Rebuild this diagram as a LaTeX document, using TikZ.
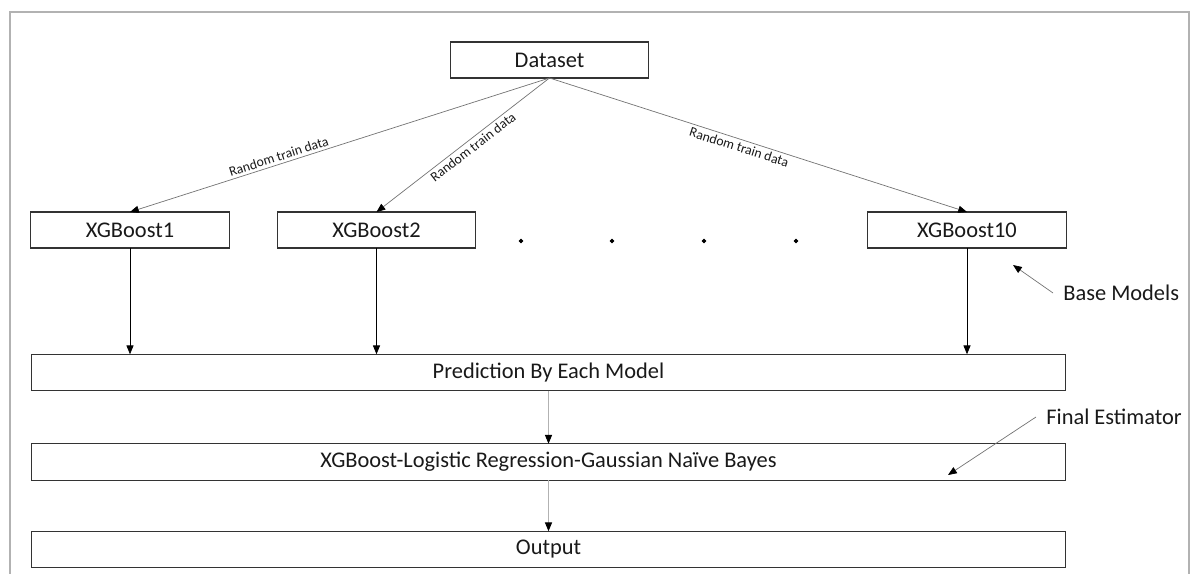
\documentclass[tikz,border=0pt]{standalone}
\usepackage{fontspec}
\setmainfont{Carlito}
\usetikzlibrary{arrows.meta}
\usetikzlibrary{calc}

\begin{document}
\begin{tikzpicture}[x=0.02cm, y=-0.02cm,
  box/.style={draw=black!80, line width=.6pt, inner sep=0pt, outer sep=0pt,
    text=black!90, font=\fontsize{12.75}{14}\selectfont},
  model/.style={box, minimum width=3.97cm, minimum height=0.72cm},
  stage/.style={box, minimum width=20.7cm, minimum height=0.73cm},
  feed/.style={draw=black!55, line width=.4pt,
    -{Triangle[length=5pt,width=4pt,color=black]}},
  pass/.style={draw=black, line width=.4pt,
    -{Triangle[length=5pt,width=4pt]}},
  soft/.style={draw=black!30, line width=.5pt,
    -{Triangle[length=5pt,width=4pt,color=black]}},
  tag/.style={font=\fontsize{7.8}{9}\selectfont, text=black!90, inner sep=1.5pt, sloped},
  note/.style={font=\fontsize{12.75}{14}\selectfont, text=black!90, anchor=west,
    inner xsep=0.2cm, inner ysep=0pt}]
\useasboundingbox (0,0) rectangle (1192,574);
% frame
\draw[black!30, line width=.8pt] (10,574) -- (10,12) -- (1189,12) -- (1189,574);

\node[model] (dataset) at (549.5,60) {Dataset};
\node[model] (xgb1) at (130,230) {XGBoost1};
\node[model] (xgb2) at (376.5,230) {XGBoost2};
\node[model] (xgb10) at (967,230) {XGBoost10};

     \draw[fill=black] (521,241) circle [radius=1.9];
     \draw[fill=black] (612,241) circle [radius=1.9];
     \draw[fill=black] (704,241) circle [radius=1.9];
     \draw[fill=black] (796,241) circle [radius=1.9];

\node[stage] (pred) at (548.5,372.5) {Prediction By Each Model};
\node[stage] (final) at (548.5,462) {XGBoost-Logistic Regression-Gaussian Naïve Bayes};
\node[stage] (out) at (548.5,549.5) {Output};

\draw[feed] (dataset.south) -- (xgb1.north)
      node[tag, above, pos=0.64] {Random train data};
\draw[feed] (dataset.south) -- (xgb2.north)
      node[tag, below, pos=0.47] {Random train data};
\draw[feed] (dataset.south) -- (xgb10.north)
      node[tag, below, pos=0.46] {Random train data};

\draw[pass] (xgb1.south) -- (xgb1.south |- pred.north);
\draw[pass] (xgb2.south) -- (xgb2.south |- pred.north);
\draw[pass] (xgb10.south) -- (xgb10.south |- pred.north);
\draw[soft] (pred.south) -- (final.north);
\draw[soft] (final.south) -- (out.north);

% side notes
\node[note] (base) at (1053,293) {Base Models};
\coordinate (basetip) at (1013,265);
\draw[feed] (base.west) -- (basetip);
\node[note] (est) at (1036,417) {Final Estimator};
\coordinate (esttip) at (948,475);
\draw[feed] (est.west) -- (esttip);
\end{tikzpicture}
\end{document}
